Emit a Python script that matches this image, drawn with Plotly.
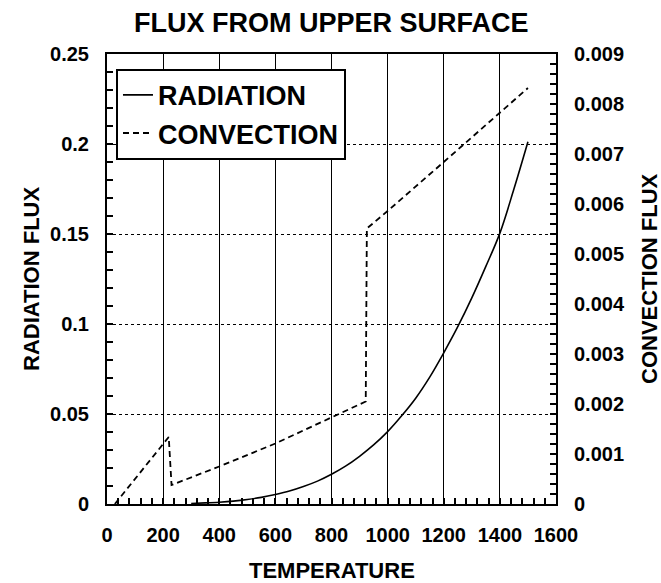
import plotly.graph_objects as go

# ---------------- data ----------------
temp_rad = [300, 350, 400, 450, 500, 550, 600, 650, 700, 750, 800, 850, 900, 950,
            1000, 1050, 1100, 1150, 1200, 1250, 1300, 1350, 1400, 1450, 1500]
rad_flux = [0.0003, 0.0006, 0.0010, 0.0016, 0.0025, 0.0037, 0.0053, 0.0072, 0.0097,
            0.0127, 0.0165, 0.0210, 0.0265, 0.0328, 0.0402, 0.0490, 0.0588, 0.0705,
            0.0840, 0.0985, 0.1145, 0.1320, 0.1505, 0.1750, 0.2013]

temp_conv = [28, 220, 230, 400, 600, 800, 922, 926, 1000, 1200, 1400, 1500]
conv_flux = [0.0, 0.00134, 0.00038, 0.00075, 0.00121, 0.00173, 0.00205, 0.00551,
             0.00586, 0.00684, 0.00783, 0.00832]

x_range = [0, 1600]
y_left_range = [0, 0.25]
y_right_range = [0, 0.009]

title_text = "FLUX FROM UPPER SURFACE"
x_title = "TEMPERATURE"
y_left_title = "RADIATION FLUX"
y_right_title = "CONVECTION FLUX"
names = ["RADIATION", "CONVECTION"]

# ---------------- figure ----------------
FONT = "Liberation Sans, Arial, Helvetica, sans-serif"

fig = go.Figure()
fig.add_trace(go.Scatter(x=temp_rad, y=rad_flux, mode="lines", name=names[0],
                         line=dict(color="black", width=1.6, shape="spline"),
                         yaxis="y"))
fig.add_trace(go.Scatter(x=temp_conv, y=conv_flux, mode="lines", name=names[1],
                         line=dict(color="black", width=1.8, dash="6px,4px"),
                         yaxis="y2"))

W, H = 661, 583
ml, mr, mt, mb = 107, 105, 54, 79

tickfont = dict(family=FONT, size=20, color="black", weight="bold")
minor_style = dict(ticks="inside", ticklen=6, tickcolor="black", tickwidth=1.5,
                   showgrid=False)

fig.update_layout(
    width=W, height=H,
    margin=dict(l=ml, r=mr, t=mt, b=mb, pad=0),
    paper_bgcolor="white", plot_bgcolor="white",
    font=dict(family=FONT, color="black", size=20, weight="bold"),
    showlegend=True,
    legend=dict(x=0.02, y=0.967, xanchor="left", yanchor="top",
                bgcolor="white", bordercolor="black", borderwidth=2,
                font=dict(family=FONT, size=27, color="black", weight="bold"),
                itemwidth=30, tracegroupgap=0),
    xaxis=dict(range=x_range, dtick=200, tick0=0,
               showline=True, linecolor="black", linewidth=2, mirror=True,
               showgrid=True, gridcolor="black", gridwidth=1.4,
               ticks="inside", ticklen=6, tickcolor="black", tickwidth=1.5,
               minor=dict(dtick=40, tick0=0, **minor_style),
               ticklabelstandoff=12, zeroline=False, tickfont=tickfont),
    yaxis=dict(range=y_left_range, dtick=0.05, tick0=0,
               showline=True, linecolor="black", linewidth=2, mirror=True,
               showgrid=True, gridcolor="black", gridwidth=1, griddash="dot",
               ticks="inside", ticklen=6, tickcolor="black", tickwidth=1.5,
               minor=dict(dtick=0.01, tick0=0, **minor_style),
               ticklabelstandoff=12, zeroline=False, tickfont=tickfont),
    yaxis2=dict(range=y_right_range, dtick=0.001, tick0=0, overlaying="y", side="right",
                showline=True, linecolor="black", linewidth=2,
                showgrid=False, tickformat=".3~f",
                ticks="inside", ticklen=6, tickcolor="black", tickwidth=1.5,
                minor=dict(dtick=0.0002, tick0=0, **minor_style),
                ticklabelstandoff=12, zeroline=False, tickfont=tickfont),
)

ann_font = dict(family=FONT, size=22, color="black", weight="bold")
fig.add_annotation(text=title_text, xref="paper", yref="paper", x=0.5, y=1,
                   yshift=31, xanchor="center", yanchor="middle", showarrow=False,
                   font=dict(family=FONT, size=27, color="black", weight="bold"))
fig.add_annotation(text=x_title, xref="paper", yref="paper", x=0.5, y=0,
                   yshift=-66, xanchor="center", yanchor="middle", showarrow=False,
                   font=ann_font)
fig.add_annotation(text=y_left_title, xref="paper", yref="paper", x=0, y=0.5,
                   xshift=-(ml - 31), xanchor="center", yanchor="middle",
                   textangle=-90, showarrow=False, font=ann_font)
fig.add_annotation(text=y_right_title, xref="paper", yref="paper", x=1, y=0.5,
                   xshift=649 - (W - mr), xanchor="center", yanchor="middle",
                   textangle=-90, showarrow=False, font=ann_font)

fig.write_html("out.html")
